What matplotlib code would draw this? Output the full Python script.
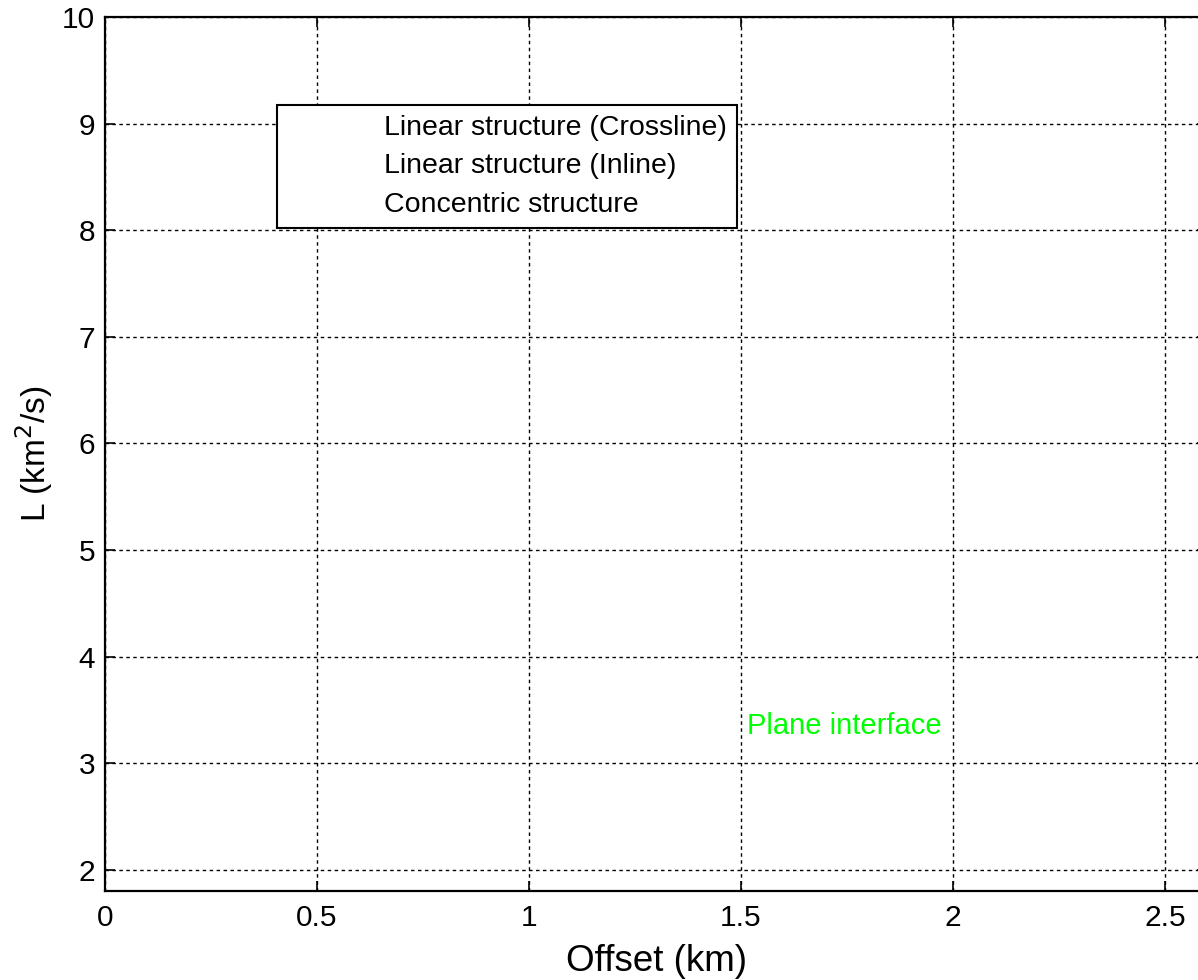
import matplotlib
matplotlib.use('Agg')
from matplotlib import pyplot as plt
import numpy as np

# series shown in the legend (no visible points in the figure)
crossline_offset = []
crossline_L = []
inline_offset = []
inline_L = []
concentric_offset = []
concentric_L = []
series_labels = ['Linear structure (Crossline)', 'Linear structure (Inline)', 'Concentric structure']

x_ticks = [0, 0.5, 1, 1.5, 2, 2.5]
x_tick_labels = ['0', '0.5', '1', '1.5', '2', '2.5']
y_ticks = [2, 3, 4, 5, 6, 7, 8, 9, 10]

note_text = 'Plane interface'
note_pos = (1.515, 3.35)

plt.rcParams['font.family'] = ['Liberation Sans', 'DejaVu Sans']

fig = plt.figure(figsize=(11.98, 9.8), dpi=100)
ax = fig.add_axes([0.0876, 0.0908, 0.9202, 0.8919])

handles = []
for xs, ys, lab in zip([crossline_offset, inline_offset, concentric_offset],
                       [crossline_L, inline_L, concentric_L], series_labels):
    h, = ax.plot(xs, ys, linestyle='none', label=lab)
    handles.append(h)

ax.text(note_pos[0], note_pos[1], note_text, color='#00ff00', fontsize=21,
        ha='left', va='center')

ax.set_xlim(0, 2.6)
ax.set_ylim(1.8, 10)
ax.set_xticks(x_ticks)
ax.set_xticklabels(x_tick_labels)
ax.set_yticks(y_ticks)
ax.tick_params(direction='in', length=7, width=1.2, labelsize=21.5, top=True, right=True)
ax.tick_params(axis='x', pad=9)
ax.tick_params(axis='y', pad=7)
for s in ax.spines.values():
    s.set_linewidth(1.6)
ax.grid(True, color='black', linestyle=(0, (2.5, 2.5)), linewidth=1.0)

ax.set_xlabel('Offset (km)', fontsize=26.5, labelpad=9)
ax.set_ylabel('L (km$^2$/s)', fontsize=24, labelpad=5)

leg = ax.legend(handles=handles, loc='upper left', bbox_to_anchor=(0.1565, 0.899),
                fontsize=20.5, frameon=True, fancybox=False, handlelength=2.6,
                handletextpad=0.8, borderpad=0.35, labelspacing=0.43,
                borderaxespad=0)
leg.get_frame().set_edgecolor('black')
leg.get_frame().set_linewidth(1.5)
leg.get_frame().set_alpha(1)

fig.savefig('out.png', dpi=100)
